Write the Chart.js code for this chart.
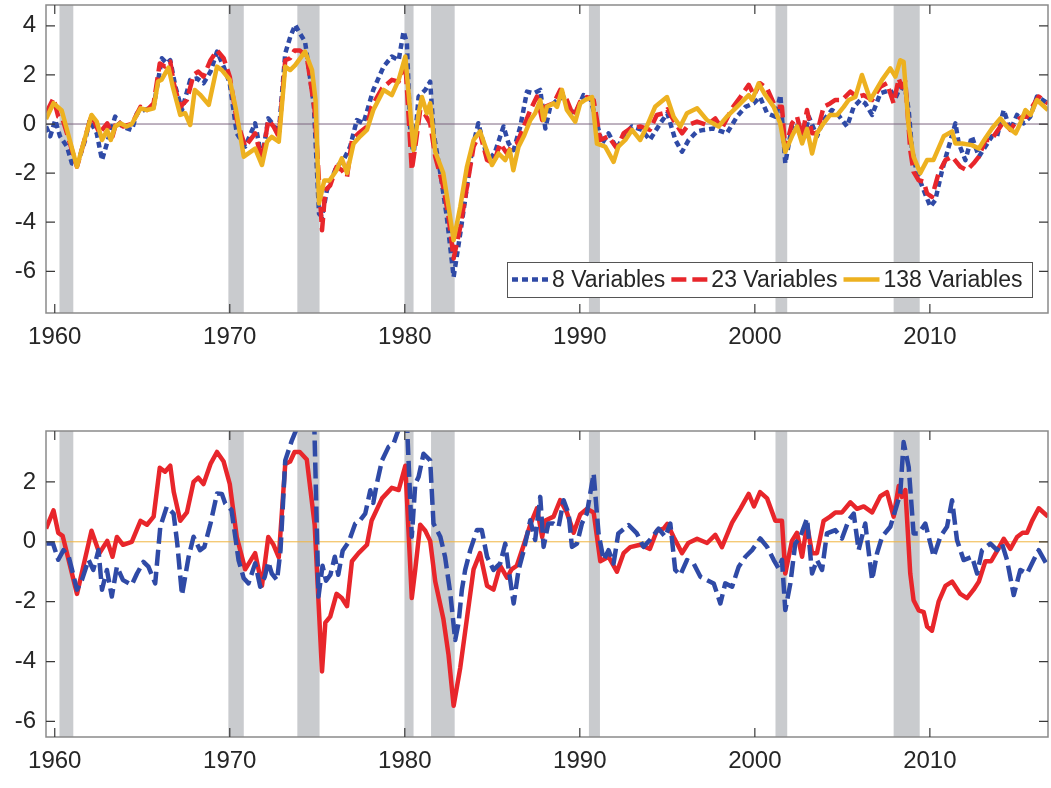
<!DOCTYPE html>
<html>
<head>
<meta charset="utf-8">
<script src="https://cdn.jsdelivr.net/npm/chart.js@4.4.1/dist/chart.umd.min.js"></script>
<style>
  html, body { margin: 0; padding: 0; background: #fff; }
  #wrap { position: relative; width: 1051px; height: 788px; }
  canvas { position: absolute; left: 0; }
  #top { top: 0; }
  #bottom { top: 410px; }
</style>
</head>
<body>
<div id="wrap">
  <canvas id="top" width="1051" height="350"></canvas>
  <canvas id="bottom" width="1051" height="378"></canvas>
</div>
<script>
// 各序列數值由圖上讀出（年份, 數值）
const xTicks = [1960, 1970, 1980, 1990, 2000, 2010];
const yTicksTop = [-6, -4, -2, 0, 2, 4];
const yTicksBottom = [-6, -4, -2, 0, 2];

// NBER 衰退期
const recessionStart = [1960.27, 1969.92, 1973.86, 1979.98, 1981.5, 1990.52, 2001.18, 2007.93];
const recessionEnd   = [1961.06, 1970.8, 1975.13, 1980.5, 1982.85, 1991.15, 2001.85, 2009.42];

// 8 Variables
const yr8 = [1959.5,1959.74,1960.03,1960.3,1960.7,1960.98,1961.27,1961.74,1962.0,1962.4,1962.7,1962.98,1963.45,1963.85,1964.4,1964.7,1965.1,1965.65,1966.12,1966.4,1966.6,1966.9,1967.27,1967.74,1968.12,1968.5,1968.9,1969.27,1969.65,1970.0,1970.4,1970.88,1971.45,1971.84,1972.2,1972.5,1972.8,1973.17,1973.46,1973.74,1974.0,1974.3,1974.8,1975.1,1975.27,1975.55,1976.1,1976.5,1976.88,1977.26,1977.64,1978.2,1978.79,1979.26,1979.65,1979.93,1980.12,1980.3,1980.5,1980.79,1981.17,1981.45,1981.65,1982.03,1982.4,1982.79,1983.17,1983.55,1983.84,1984.2,1984.6,1985.07,1985.64,1985.93,1986.22,1986.6,1986.98,1987.36,1987.74,1988.03,1988.31,1988.7,1989.07,1989.45,1989.84,1990.21,1990.6,1990.98,1991.27,1991.64,1992.12,1992.5,1992.98,1993.55,1994.0,1994.6,1995.0,1995.46,1995.84,1996.22,1996.7,1997.08,1997.65,1998.4,1998.98,1999.46,1999.93,2000.3,2000.7,2001.17,2001.46,2001.74,2002.12,2002.41,2002.8,2003.08,2003.55,2003.93,2004.4,2004.7,2004.98,2005.27,2005.65,2006.03,2006.31,2006.7,2007.17,2007.74,2008.03,2008.31,2008.6,2008.79,2008.98,2009.27,2009.65,2010.03,2010.31,2010.7,2011.08,2011.46,2011.65,2012.03,2012.4,2012.8,2013.17,2013.55,2013.84,2014.22,2014.6,2014.98,2015.36,2015.74,2016.12,2016.75];
const val8 = [-0.1,-0.5,0.16,-0.5,-0.92,-1.6,-1.67,-0.65,0.16,-0.38,-1.47,-0.79,0.3,-0.1,-0.24,0.44,0.57,0.7,2.68,2.47,2.6,1.5,0.57,1.8,1.86,1.66,2.14,2.95,2.34,1.66,-0.38,-0.92,0.03,-1.47,0.23,-0.04,-0.38,2.88,3.56,4.04,3.7,3.36,0.8,-3.65,-3.78,-2.7,-1.74,-1.47,-0.92,0.16,0.03,1.39,2.34,2.75,2.6,3.77,3.3,-0.1,-1.33,1.12,1.39,1.73,-0.38,-2.0,-3.78,-6.23,-4.46,-2.56,-1.06,0.03,-1.06,-1.33,-0.1,-0.79,-1.06,-0.1,1.32,1.25,1.39,-0.18,0.7,0.98,1.1,0.44,0.57,1.18,1.05,0.03,-0.79,-0.38,-1.0,-0.5,-0.1,-0.24,-0.65,0.03,0.44,-0.65,-1.13,-0.65,-0.3,-0.24,-0.18,-0.38,0.3,0.7,0.84,1.1,0.44,0.3,1.18,-1.6,-0.1,0.03,-0.65,0.3,-0.5,0.16,0.57,0.44,0.16,-0.1,0.7,0.98,0.84,0.37,1.25,1.39,1.05,1.52,1.39,0.57,-1.06,-2.0,-2.7,-3.37,-3.1,-1.88,-0.92,0.03,-0.79,-1.47,-0.5,-1.33,-0.92,-0.5,-0.5,0.57,-0.24,0.37,0.03,0.3,1.12,0.84];

// 23 Variables（下圖 Benchmark 與此相同）
const yr23 = [1959.5,1959.93,1960.2,1960.45,1961.27,1962.1,1962.55,1963.0,1963.3,1963.55,1963.9,1964.4,1964.9,1965.27,1965.65,1966.0,1966.3,1966.6,1966.8,1967.17,1967.55,1967.93,1968.2,1968.5,1968.9,1969.27,1969.65,1970.0,1970.4,1970.88,1971.45,1971.84,1972.2,1972.5,1972.8,1973.17,1973.45,1973.7,1974.0,1974.4,1974.85,1975.27,1975.46,1975.74,1976.1,1976.4,1976.7,1976.98,1977.36,1977.84,1978.1,1978.7,1979.26,1979.65,1980.03,1980.4,1980.6,1980.88,1981.17,1981.45,1981.74,1982.2,1982.5,1982.79,1983.17,1983.55,1983.93,1984.3,1984.7,1985.07,1985.45,1985.84,1986.1,1986.4,1986.8,1987.17,1987.55,1987.85,1988.0,1988.5,1988.88,1989.26,1989.65,1990.02,1990.4,1990.79,1991.17,1991.64,1992.12,1992.5,1992.88,1993.45,1994.0,1994.4,1994.79,1995.0,1995.36,1995.84,1996.2,1996.7,1997.27,1997.74,1998.12,1998.7,1999.17,1999.65,1999.95,2000.3,2000.7,2001.17,2001.55,2001.74,2002.12,2002.41,2002.7,2002.98,2003.27,2003.55,2003.93,2004.3,2004.6,2004.98,2005.46,2005.84,2006.22,2006.7,2007.17,2007.55,2007.93,2008.22,2008.4,2008.6,2008.88,2009.07,2009.36,2009.65,2009.84,2010.12,2010.5,2010.89,2011.27,2011.74,2012.12,2012.5,2012.8,2013.17,2013.5,2013.84,2014.22,2014.6,2014.98,2015.3,2015.55,2015.84,2016.22,2016.75];
const val23 = [0.44,1.05,0.3,0.2,-1.74,0.37,-0.38,0.03,-0.5,0.16,-0.1,0.0,0.7,0.57,0.84,2.47,2.34,2.54,1.66,0.7,0.98,2.0,2.14,1.93,2.6,3.0,2.68,1.93,0.16,-0.92,-0.38,-1.47,0.16,-0.1,-0.52,2.6,2.68,3.0,3.0,2.75,0.57,-4.33,-2.7,-2.5,-1.74,-1.88,-2.15,-0.65,-0.38,-0.1,0.7,1.45,1.8,1.73,2.54,-1.88,-0.92,0.57,0.37,0.03,-1.33,-2.56,-3.78,-5.48,-4.2,-2.56,-0.92,-0.38,-1.47,-1.6,-0.8,-1.2,-0.92,-0.8,-0.1,0.57,1.12,0.16,0.7,0.84,1.39,0.98,0.3,0.91,1.1,0.98,-0.65,-0.5,-1.0,-0.38,-0.18,-0.1,-0.24,0.37,0.44,0.6,0.16,-0.38,-0.04,0.1,-0.04,0.23,-0.18,0.64,1.1,1.6,1.18,1.66,1.45,0.7,0.7,-1.06,0.03,0.3,-0.5,0.57,-0.38,-0.38,0.7,0.84,0.98,0.98,1.32,1.1,1.18,0.98,1.52,1.66,0.84,1.86,1.5,1.73,-1.06,-1.95,-2.29,-2.35,-2.83,-2.97,-2.0,-1.47,-1.33,-1.74,-1.88,-1.6,-1.33,-0.65,-0.65,-0.3,0.1,-0.24,0.16,0.3,0.3,0.7,1.12,0.84];

// 138 Variables
const yr138 = [1959.5,1959.93,1960.4,1961.27,1962.1,1962.4,1962.7,1963.0,1963.2,1963.45,1963.75,1964.1,1964.4,1964.9,1965.27,1965.65,1965.9,1966.1,1966.5,1966.75,1967.17,1967.45,1967.74,1968.0,1968.3,1968.8,1969.27,1969.55,1970.0,1970.35,1970.8,1971.45,1971.84,1972.13,1972.4,1972.8,1973.17,1973.45,1973.74,1974.3,1974.7,1974.9,1975.1,1975.4,1975.7,1976.1,1976.4,1976.7,1977.07,1977.45,1977.84,1978.2,1978.79,1979.26,1979.65,1980.03,1980.3,1980.5,1980.79,1980.98,1981.26,1981.45,1981.74,1982.2,1982.5,1982.79,1983.17,1983.55,1983.93,1984.3,1984.6,1984.98,1985.36,1985.74,1986.0,1986.2,1986.5,1986.8,1987.17,1987.45,1987.74,1987.93,1988.12,1988.5,1988.7,1988.98,1989.26,1989.74,1990.02,1990.3,1990.7,1990.98,1991.45,1991.93,1992.2,1992.6,1992.98,1993.45,1993.83,1994.3,1994.98,1995.36,1995.74,1996.12,1996.7,1997.27,1997.93,1998.4,1998.98,1999.65,1999.85,2000.22,2000.6,2001.08,2001.45,2001.74,2002.12,2002.41,2002.7,2002.98,2003.27,2003.55,2003.93,2004.3,2004.7,2005.08,2005.36,2005.74,2006.12,2006.6,2007.27,2007.74,2008.03,2008.31,2008.5,2008.79,2009.07,2009.45,2009.84,2010.2,2010.79,2011.27,2011.46,2011.85,2012.4,2012.8,2013.17,2013.55,2014.03,2014.4,2014.9,2015.17,2015.46,2015.75,2016.12,2016.75];
const val138 = [0.2,0.85,0.55,-1.74,0.37,0.1,-0.65,-0.25,-0.65,-0.1,0.03,-0.1,0.0,0.64,0.57,0.64,1.73,1.8,2.3,1.5,0.37,0.44,-0.04,1.39,1.2,0.78,2.34,2.2,1.8,0.6,-1.33,-1.0,-1.67,-0.72,-0.52,-0.72,2.34,2.2,2.4,2.95,2.2,0.98,-3.24,-2.3,-2.3,-1.88,-1.4,-2.0,-0.8,-0.5,-0.24,0.57,1.39,1.18,1.8,2.75,0.6,-1.06,0.44,1.1,0.44,0.85,-1.13,-2.0,-3.37,-4.73,-3.37,-1.74,-0.65,-0.3,-0.92,-1.67,-1.2,-1.47,-1.06,-1.88,-0.92,-0.5,0.16,0.44,0.98,0.16,0.7,0.84,0.7,1.39,0.57,0.1,0.84,0.98,1.1,-0.8,-0.92,-1.54,-0.92,-0.65,-0.24,-0.65,-0.1,0.7,1.1,0.3,-0.1,0.44,0.64,0.16,-0.1,0.3,0.7,1.18,0.98,1.66,1.18,0.7,0.03,-1.13,-0.5,-0.1,-0.79,-0.2,-1.2,-0.38,0.03,0.37,0.37,0.7,0.98,1.1,2.0,0.98,1.8,2.27,1.93,2.6,2.54,-0.1,-1.33,-2.0,-1.47,-1.47,-0.5,-0.3,-0.79,-0.79,-0.86,-1.0,-0.58,-0.18,0.23,-0.1,-0.38,0.03,0.57,0.37,0.98,0.57];

// Benchmark Omit Umemployment
const yrOmit = [1959.5,1959.9,1960.2,1960.5,1960.8,1961.27,1961.55,1961.93,1962.2,1962.5,1962.7,1962.98,1963.26,1963.55,1963.9,1964.4,1964.7,1965.07,1965.35,1965.74,1966.03,1966.4,1966.79,1967.0,1967.27,1967.65,1967.93,1968.3,1968.55,1968.9,1969.27,1969.55,1969.74,1970.1,1970.5,1970.8,1971.07,1971.45,1971.74,1972.0,1972.2,1972.4,1972.7,1972.9,1973.17,1973.55,1973.84,1974.3,1974.8,1975.07,1975.3,1975.5,1975.75,1976.0,1976.2,1976.45,1976.8,1977.17,1977.45,1977.74,1978.03,1978.2,1978.4,1978.7,1979.07,1979.36,1979.55,1979.83,1980.12,1980.4,1980.6,1980.79,1981.07,1981.45,1981.64,1982.03,1982.3,1982.6,1982.88,1983.07,1983.26,1983.45,1983.74,1984.12,1984.4,1984.7,1985.07,1985.45,1985.74,1985.93,1986.22,1986.5,1986.8,1987.17,1987.45,1987.74,1987.93,1988.2,1988.5,1988.79,1989.07,1989.36,1989.55,1989.84,1990.12,1990.4,1990.79,1991.07,1991.36,1991.64,1991.93,1992.2,1992.79,1993.26,1993.64,1994.0,1994.5,1994.88,1995.17,1995.45,1995.74,1996.12,1996.5,1996.89,1997.27,1997.65,1998.03,1998.31,1998.7,1999.08,1999.46,1999.84,2000.31,2000.7,2001.08,2001.36,2001.55,2001.74,2002.03,2002.31,2002.6,2002.98,2003.27,2003.55,2003.84,2004.12,2004.6,2004.98,2005.36,2005.65,2005.93,2006.31,2006.7,2006.98,2007.27,2007.74,2008.03,2008.31,2008.5,2008.79,2009.07,2009.36,2009.74,2010.22,2010.6,2010.98,2011.27,2011.55,2011.93,2012.41,2012.7,2012.98,2013.46,2013.84,2014.12,2014.41,2014.79,2015.17,2015.55,2015.93,2016.22,2016.75];
const valOmit = [-0.06,-0.06,-0.6,-0.28,-0.5,-1.6,-1.28,-0.6,-0.94,-0.28,-1.6,-0.94,-1.83,-0.83,-1.28,-1.44,-1.06,-0.67,-0.83,-1.39,0.5,1.17,0.94,-0.06,-1.78,-0.5,0.17,-0.28,-0.17,0.61,1.61,1.6,1.28,1.06,-0.61,-1.22,-1.39,-0.72,-1.5,-1.17,-0.67,-1.06,-1.28,-0.28,2.72,3.39,3.8,4.6,4.6,-1.83,-0.8,-1.3,-1.1,-0.5,-1.1,-0.3,0.0,0.61,0.72,0.94,1.72,1.3,1.94,2.72,3.17,3.28,3.6,4.0,4.0,0.17,1.94,2.17,2.94,2.72,0.61,0.17,-0.5,-1.72,-3.28,-2.72,-1.61,-0.94,-0.28,0.39,0.39,-0.5,-0.94,-0.72,-0.06,-0.9,-2.06,-0.94,-0.28,0.72,0.06,1.5,-0.17,0.61,0.61,0.5,1.39,0.94,-0.17,-0.06,0.61,0.94,2.28,0.28,-0.61,-0.28,-0.72,0.28,0.56,0.28,-0.17,0.06,0.44,0.17,0.61,-0.94,-1.11,-0.61,-0.72,-1.17,-1.28,-1.39,-2.06,-1.39,-1.5,-0.83,-0.5,-0.28,0.11,-0.17,-0.61,-0.89,-0.6,-2.28,-1.39,-0.06,0.17,0.78,-1.06,-0.61,-0.94,0.28,0.39,0.11,0.72,0.94,-0.28,0.61,-1.28,-0.39,0.17,0.5,1.06,1.61,3.33,2.5,0.28,0.28,0.61,-0.5,0.17,0.5,1.39,0.06,-0.61,-0.5,-1.06,-0.28,-0.06,-0.28,-0.06,-0.61,-1.78,-0.94,-1.06,-0.61,-0.28,-0.83];

const FONT = '"Liberation Sans", Arial, Helvetica, sans-serif';
const TEXT = '#262626';
const BLUE = '#2f4aa6';
const RED = '#e8262b';
const GOLD = '#edb120';

function points(xs, ys) {
  return xs.map((x, i) => ({ x, y: ys[i] }));
}

// 衰退期灰帶與零線
const shading = {
  id: 'shading',
  beforeDatasetsDraw(chart, args, opts) {
    const { ctx, chartArea: a, scales: { x, y } } = chart;
    ctx.save();
    ctx.fillStyle = '#c9cbce';
    recessionStart.forEach((s, i) => {
      const x0 = x.getPixelForValue(s);
      const x1 = x.getPixelForValue(recessionEnd[i]);
      ctx.fillRect(x0, a.top, x1 - x0, a.bottom - a.top);
    });
    const y0 = y.getPixelForValue(0);
    ctx.strokeStyle = opts.zeroColor;
    ctx.lineWidth = 1;
    ctx.beginPath();
    ctx.moveTo(a.left, y0);
    ctx.lineTo(a.right, y0);
    ctx.stroke();
    ctx.restore();
  },
};

// 外框與朝內刻度（MATLAB 風格）
const frame = {
  id: 'frame',
  afterDatasetsDraw(chart) {
    const { ctx, chartArea: a, scales: { x, y } } = chart;
    ctx.save();
    ctx.strokeStyle = '#8a8a8a';
    ctx.lineWidth = 1.5;
    ctx.strokeRect(a.left, a.top, a.right - a.left, a.bottom - a.top);
    ctx.strokeStyle = '#3a3a3a';
    ctx.lineWidth = 1.2;
    ctx.beginPath();
    x.ticks.forEach((t) => {
      const px = x.getPixelForValue(t.value);
      ctx.moveTo(px, a.bottom); ctx.lineTo(px, a.bottom - 9);
      ctx.moveTo(px, a.top); ctx.lineTo(px, a.top + 9);
    });
    y.ticks.forEach((t) => {
      const py = y.getPixelForValue(t.value);
      ctx.moveTo(a.left, py); ctx.lineTo(a.left + 9, py);
      ctx.moveTo(a.right, py); ctx.lineTo(a.right - 9, py);
    });
    ctx.stroke();
    ctx.restore();
  },
};

// 圖內方框圖例
const boxLegend = {
  id: 'boxLegend',
  afterDraw(chart, args, o) {
    const { ctx } = chart;
    const [x0, y0, x1, y1] = o.box;
    ctx.save();
    ctx.fillStyle = '#fff';
    ctx.fillRect(x0, y0, x1 - x0, y1 - y0);
    ctx.strokeStyle = '#555';
    ctx.lineWidth = 1;
    ctx.strokeRect(x0 + 0.5, y0 + 0.5, x1 - x0, y1 - y0);
    ctx.font = `23px ${FONT}`;
    ctx.textBaseline = 'middle';
    const cy = (y0 + y1) / 2;
    let cx = x0 + 5;
    chart.data.datasets.forEach((ds) => {
      ctx.strokeStyle = ds.borderColor;
      ctx.lineWidth = ds.borderWidth;
      ctx.setLineDash(ds.borderDash || []);
      ctx.beginPath();
      ctx.moveTo(cx, cy);
      ctx.lineTo(cx + 36, cy);
      ctx.stroke();
      ctx.setLineDash([]);
      ctx.fillStyle = TEXT;
      ctx.fillText(ds.label, cx + 40, cy + 1);
      cx += 40 + ctx.measureText(ds.label).width + 6;
    });
    ctx.restore();
  },
};

function makePanel(id, datasets, yMin, yMax, yTicks, zeroColor, axisH, padTop, legendBox) {
  return new Chart(document.getElementById(id).getContext('2d'), {
    type: 'line',
    data: { datasets },
    plugins: [shading, frame, boxLegend],
    options: {
      responsive: false,
      animation: false,
      events: [],
      layout: { padding: { top: padTop, right: 3, left: 0, bottom: 0 } },
      elements: { point: { radius: 0 }, line: { tension: 0, borderCapStyle: 'butt', borderJoinStyle: 'round' } },
      plugins: {
        legend: { display: false },
        tooltip: { enabled: false },
        shading: { zeroColor },
        boxLegend: { box: legendBox },
      },
      scales: {
        x: {
          type: 'linear',
          min: 1959.5,
          max: 2016.75,
          afterBuildTicks: (s) => { s.ticks = xTicks.map((v) => ({ value: v })); },
          afterFit: (s) => {
            s.height = axisH;
            s.paddingLeft = 0;
            s.paddingRight = 0;
          },
          grid: { display: false, drawTicks: false },
          border: { display: false },
          ticks: {
            color: TEXT,
            font: { family: FONT, size: 24 },
            padding: 10,
            maxRotation: 0,
            autoSkip: false,
            callback: (v) => String(v),
          },
        },
        y: {
          min: yMin,
          max: yMax,
          afterBuildTicks: (s) => { s.ticks = yTicks.map((v) => ({ value: v })); },
          afterFit: (s) => {
            s.width = 46;
            s.paddingTop = 0;
            s.paddingBottom = 0;
          },
          grid: { display: false, drawTicks: false },
          border: { display: false },
          ticks: {
            color: TEXT,
            font: { family: FONT, size: 24 },
            padding: 10,
            callback: (v) => String(v),
          },
        },
      },
    },
  });
}

makePanel('top', [
  { label: '8 Variables', data: points(yr8, val8), borderColor: BLUE, borderWidth: 4.5, borderDash: [6, 4], order: 2 },
  { label: '23 Variables', data: points(yr23, val23), borderColor: RED, borderWidth: 4.5, borderDash: [15, 6], order: 1 },
  { label: '138 Variables', data: points(yr138, val138), borderColor: GOLD, borderWidth: 4.5, order: 0 },
], -7.7, 4.85, yTicksTop, '#7d6680', 37, 5, [507, 262, 1032, 297]);

makePanel('bottom', [
  { label: 'Benchmark', data: points(yr23, val23), borderColor: RED, borderWidth: 4.5, order: 1 },
  { label: 'Benchmark Omit Umemployment', data: points(yrOmit, valOmit), borderColor: BLUE, borderWidth: 4.5, borderDash: [16, 6], order: 0 },
], -6.52, 3.7, yTicksBottom, '#f0b640', 51, 21, [483, 686, 1032, 722]);
</script>
</body>
</html>
